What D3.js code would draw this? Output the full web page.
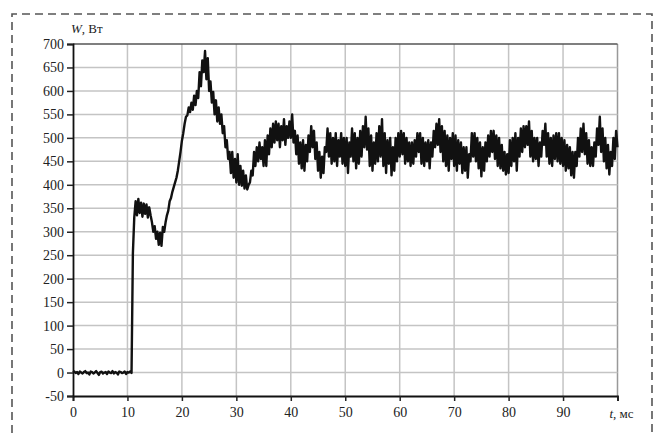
<!DOCTYPE html>
<html>
<head>
<meta charset="utf-8">
<script src="https://cdn.jsdelivr.net/npm/d3@7"></script>
<style>
	body { margin: 0; background: #fff; }
	svg text { font-family: "Liberation Serif", "DejaVu Serif", serif; fill: #222; }
</style>
</head>
<body>
<svg id="chart" width="664" height="433"></svg>
<script>
// sampling step of the trace, ms
const SAMPLE_MS = 0.25;

// power W, Вт, one row per millisecond (4 samples), starting at t = 0
const powerValues = [
	0, 2, -1, 1,
	-3, 2, 0, -2,
	1, 3, -1, 0,
	-4, 2, 1, -2,
	0, 3, -1, -5,
	1, 2, -2, 0,
	1, -3, 2, 0,
	-1, 3, -2, 1,
	0, -4, 2, 1,
	-1, 0, 2, -3,
	1, 0, 2, -1,
	255, 330, 365, 335,      // 11 ms
	370, 340, 362, 332,
	360, 338, 358, 330,
	352, 335, 320, 300,
	312, 285, 300, 272,
	298, 270, 310, 300,
	320, 335, 345, 365,
	372, 385, 395, 405,
	415, 430, 450, 470,
	494, 510, 530, 545,      // 20 ms
	548, 565, 555, 575,
	560, 590, 570, 600,
	585, 640, 610, 665,
	640, 685, 625, 670,
	600, 620, 575, 598,
	550, 580, 535, 565,
	530, 550, 510, 525,
	480, 495, 455, 470,
	425, 470, 415, 455,
	405, 465, 400, 440,      // 30 ms
	398, 430, 392, 420,
	390, 400, 405, 430,
	420, 470, 440, 480,
	450, 490, 455, 480,
	440, 495, 440, 505,
	465, 520, 480, 530,
	490, 535, 495, 530,
	480, 525, 495, 540,
	485, 525, 500, 535,
	500, 550, 490, 515,      // 40 ms
	465, 505, 445, 490,
	435, 495, 430, 485,
	450, 505, 470, 525,
	480, 515, 455, 490,
	430, 470, 415, 460,
	425, 480, 470, 520,
	460, 510, 445, 500,
	450, 510, 440, 495,
	460, 510, 445, 500,
	440, 500, 425, 490,      // 50 ms
	460, 520, 450, 510,
	435, 500, 445, 515,
	460, 525, 480, 545,
	475, 520, 440, 505,
	430, 490, 445, 510,
	450, 525, 460, 540,
	440, 510, 425, 495,
	445, 500, 420, 480,
	430, 500, 450, 510,
	460, 515, 465, 510,      // 60 ms
	445, 500, 450, 490,
	440, 490, 445, 495,
	460, 510, 470, 510,
	445, 500, 440, 490,
	450, 495, 435, 490,
	460, 515, 480, 530,
	485, 540, 470, 525,
	450, 515, 440, 505,
	430, 500, 455, 510,
	440, 505, 430, 495,      // 70 ms
	445, 490, 425, 480,
	430, 480, 415, 465,
	450, 510, 460, 510,
	450, 500, 435, 490,
	418, 480, 430, 490,
	450, 505, 460, 515,
	470, 515, 455, 505,
	440, 500, 435, 485,
	430, 470, 422, 465,
	425, 495, 440, 500,      // 80 ms
	450, 510, 430, 500,
	460, 520, 470, 525,
	480, 525, 485, 535,
	460, 515, 450, 500,
	455, 500, 440, 490,
	460, 515, 485, 530,
	460, 510, 445, 500,
	440, 505, 455, 510,
	450, 510, 445, 500,
	440, 495, 430, 485,      // 90 ms
	435, 480, 420, 470,
	415, 470, 440, 500,
	460, 520, 470, 530,
	465, 510, 445, 495,
	440, 480, 440, 490,
	460, 520, 485, 545,
	470, 520, 450, 500,
	435, 485, 422, 470,
	440, 500, 455, 515,
	480                      // 100 ms
];

const xTicks = [0, 10, 20, 30, 40, 50, 60, 70, 80, 90, 100];
const yTicks = [-50, 0, 50, 100, 150, 200, 250, 300, 350, 400, 450, 500, 550, 600, 650, 700];

const PLOT_LEFT = 73;
const PLOT_RIGHT = 617.5;
const PLOT_TOP = 44;
const PLOT_BOTTOM = 396;

let svg = d3.select("svg#chart");

let x = d3.scaleLinear().domain([0, 100]).range([PLOT_LEFT, PLOT_RIGHT]);
let y = d3.scaleLinear().domain([-50, 700]).range([PLOT_BOTTOM, PLOT_TOP]);

// dashed frame round the figure (open at the bottom)
svg.append("path")
	.attr("d", "M12,433 L12,14 L652,14 L652,433")
	.attr("fill", "none")
	.attr("stroke", "#555")
	.attr("stroke-width", 1.6)
	.attr("stroke-dasharray", "8,5")
	;

// grid
svg.append("g")
	.selectAll("line")
	.data(xTicks.slice(1))
	.join("line")
	.attr("x1", d => x(d))
	.attr("x2", d => x(d))
	.attr("y1", PLOT_TOP)
	.attr("y2", PLOT_BOTTOM)
	.attr("stroke", d => d === 100 ? "#999" : "#c4c4c4")
	.attr("stroke-width", 1.5)
	;
svg.append("g")
	.selectAll("line")
	.data(yTicks.slice(1, -1))
	.join("line")
	.attr("x1", PLOT_LEFT)
	.attr("x2", PLOT_RIGHT)
	.attr("y1", d => y(d))
	.attr("y2", d => y(d))
	.attr("stroke", "#c4c4c4")
	.attr("stroke-width", 1.5)
	;
svg.append("line")
	.attr("x1", PLOT_LEFT)
	.attr("x2", PLOT_RIGHT)
	.attr("y1", y(700))
	.attr("y2", y(700))
	.attr("stroke", "#555")
	.attr("stroke-width", 1.6)
	;

// trace
let line = d3.line()
	.x((d, i) => x(i * SAMPLE_MS))
	.y(d => y(d))
	;
svg.append("path")
	.datum(powerValues)
	.attr("d", line)
	.attr("fill", "none")
	.attr("stroke", "#111")
	.attr("stroke-width", 2.4)
	.attr("stroke-linejoin", "round")
	;

// axes (plain hyphen for negatives, as in the original)
let xAxis = svg.append("g")
	.attr("transform", `translate(0,${PLOT_BOTTOM})`)
	.call(d3.axisBottom(x).tickValues(xTicks).tickSize(5).tickPadding(6).tickFormat(d => d === 100 ? "" : String(d)))
	;
let yAxis = svg.append("g")
	.attr("transform", `translate(${PLOT_LEFT},0)`)
	.call(d3.axisLeft(y).tickValues(yTicks).tickSize(6).tickPadding(3).tickFormat(d => String(d)))
	;
[xAxis, yAxis].forEach(g => {
	g.select(".domain").attr("stroke", "#111").attr("stroke-width", 1.8);
	g.selectAll(".tick line").attr("stroke", "#222").attr("stroke-width", 1.5);
	g.selectAll(".tick text")
		.style("font-family", '"Liberation Serif", serif')
		.style("font-size", "14px")
		.attr("fill", "#222");
});

// axis titles
let tLabel = svg.append("text")
	.attr("x", x(100) + 4)
	.attr("y", PLOT_BOTTOM + 22)
	.attr("text-anchor", "middle")
	.style("font-size", "13px")
	;
tLabel.append("tspan").style("font-style", "italic").text("t");
tLabel.append("tspan").text(", мс");

let wLabel = svg.append("text")
	.attr("x", PLOT_LEFT - 2)
	.attr("y", 33)
	.style("font-size", "13px")
	;
wLabel.append("tspan").style("font-style", "italic").text("W");
wLabel.append("tspan").text(", Вт");
</script>
</body>
</html>
